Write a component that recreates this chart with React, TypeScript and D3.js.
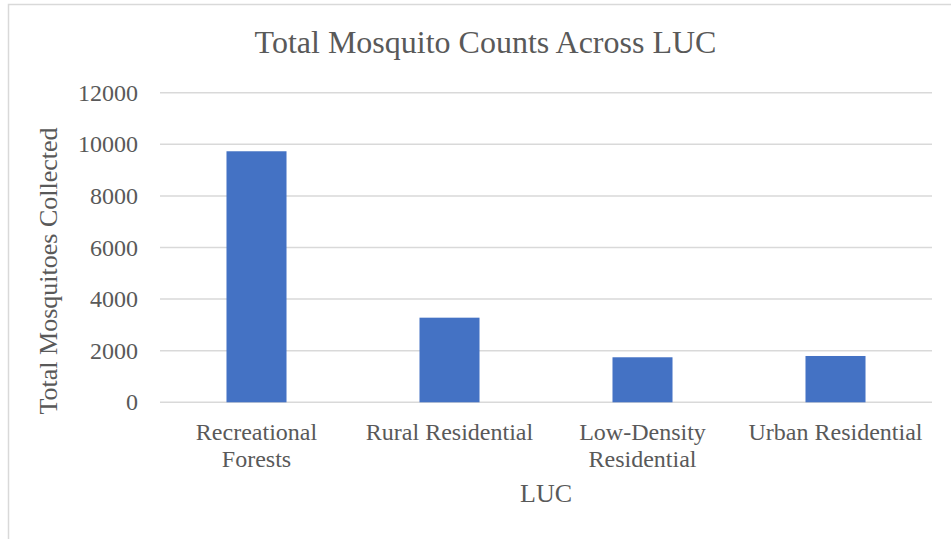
import React from "react";
import * as d3 from "d3";

const categories: string[][] = [
  ["Recreational", "Forests"],
  ["Rural Residential"],
  ["Low-Density", "Residential"],
  ["Urban Residential"],
];
const values: number[] = [9730, 3280, 1745, 1795];
const yTicks: number[] = [0, 2000, 4000, 6000, 8000, 10000, 12000];
const title = "Total Mosquito Counts Across LUC";
const xTitle = "LUC";
const yTitle = "Total Mosquitoes Collected";

const W = 951;
const H = 539;
const FONT = "'Liberation Serif', 'Times New Roman', serif";
const TEXT = "#595959";
const GRID = "#d9d9d9";

export default function App() {
  const plotLeft = 160;
  const plotRight = 932;
  const plotTop = 92.7;
  const plotBottom = 402.3;

  const keys = categories.map((c) => c.join(" "));
  const x = d3
    .scaleBand<string>()
    .domain(keys)
    .range([plotLeft, plotRight])
    .paddingInner(0.689)
    .paddingOuter(0.3445);
  const y = d3.scaleLinear().domain([0, 12000]).range([plotBottom, plotTop]);

  return (
    <svg
      width={W}
      height={H}
      style={{ position: "absolute", left: 0, top: 0, background: "#fff" }}
      fontFamily={FONT}
    >
      <rect x={0} y={0} width={W} height={H} fill="#fff" />
      {/* chart area border (extends beyond the frame on right/bottom) */}
      <rect x={8.5} y={4.5} width={1000} height={700} fill="none" stroke={GRID} strokeWidth={1.5} />

      <text x={485.5} y={53} textAnchor="middle" fontSize={32} fill={TEXT}>
        {title}
      </text>

      {yTicks.map((t) => (
        <g key={t}>
          <line x1={plotLeft} x2={plotRight} y1={y(t)} y2={y(t)} stroke={GRID} strokeWidth={1.5} />
          <text x={138} y={y(t) + 8} textAnchor="end" fontSize={24} fill={TEXT}>
            {t}
          </text>
        </g>
      ))}

      {values.map((v, i) => (
        <rect
          key={keys[i]}
          x={x(keys[i])}
          y={y(v)}
          width={x.bandwidth()}
          height={y(0) - y(v)}
          fill="#4472C4"
        />
      ))}

      {categories.map((lines, i) => (
        <text
          key={keys[i]}
          x={(x(keys[i]) as number) + x.bandwidth() / 2}
          y={440}
          textAnchor="middle"
          fontSize={24}
          fill={TEXT}
        >
          {lines.map((l, j) => (
            <tspan key={j} x={(x(keys[i]) as number) + x.bandwidth() / 2} dy={j === 0 ? 0 : 27}>
              {l}
            </tspan>
          ))}
        </text>
      ))}

      <text x={(plotLeft + plotRight) / 2} y={502} textAnchor="middle" fontSize={26} fill={TEXT}>
        {xTitle}
      </text>

      <text
        transform={`translate(57, 271) rotate(-90)`}
        textAnchor="middle"
        fontSize={26}
        fill={TEXT}
      >
        {yTitle}
      </text>
    </svg>
  );
}
